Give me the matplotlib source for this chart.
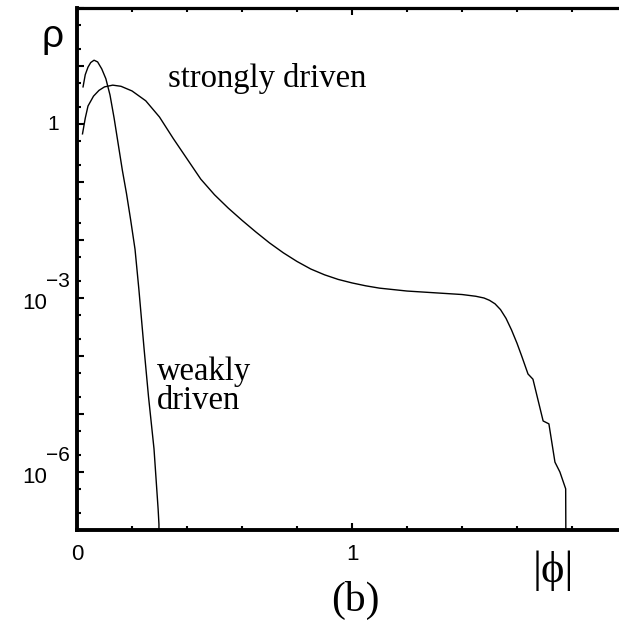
import numpy as np
import matplotlib.pyplot as plt
from matplotlib.ticker import LogLocator, MultipleLocator, NullFormatter, FixedLocator

# weakly driven curve: |phi| and log10(rho)
weak_x = [0.022, 0.03, 0.04, 0.05, 0.062, 0.075, 0.09, 0.105, 0.12, 0.135, 0.15, 0.165, 0.18,
          0.195, 0.211, 0.225, 0.244, 0.26, 0.28, 0.295, 0.298, 0.298]
weak_logy = [0.64, 0.85, 0.98, 1.06, 1.10, 1.07, 0.95, 0.78, 0.50, 0.10, -0.35, -0.80, -1.20,
             -1.65, -2.16, -2.85, -3.88, -4.70, -5.60, -6.64, -6.90, -7.50]

# strongly driven curve
strong_x = [0.02, 0.03, 0.04, 0.06, 0.08, 0.10, 0.13, 0.16, 0.20, 0.25, 0.30, 0.35, 0.40, 0.45,
            0.50, 0.55, 0.60, 0.65, 0.70, 0.75, 0.80, 0.85, 0.90, 0.95, 1.00, 1.05, 1.10, 1.20, 1.30,
            1.40, 1.45, 1.48, 1.50, 1.52, 1.54, 1.56, 1.58, 1.60, 1.617, 1.64, 1.658, 1.695, 1.716,
            1.738, 1.756, 1.777, 1.778]
strong_logy = [-0.17, 0.10, 0.31, 0.48, 0.58, 0.64, 0.67, 0.65, 0.57, 0.40, 0.12, -0.25, -0.60, -0.95,
               -1.22, -1.45, -1.66, -1.86, -2.05, -2.22, -2.37, -2.50, -2.60, -2.68, -2.74, -2.79, -2.83,
               -2.88, -2.91, -2.94, -2.97, -3.00, -3.04, -3.10, -3.20, -3.35, -3.55, -3.78, -4.00, -4.31,
               -4.40, -5.12, -5.17, -5.83, -6.00, -6.29, -7.50]

ytick_vals = [1e-6, 1e-3]
ytick_exps = ['\u22126', '\u22123']

plt.rcParams['font.family'] = ['Liberation Sans', 'DejaVu Sans']

fig = plt.figure(figsize=(6.19, 6.22), dpi=100)
# axes runs a little past the right edge of the figure (cropped as in the original)
ax = fig.add_axes([77 / 619, 1 - 530 / 622, 550 / 619, 522 / 622])

ax.plot(weak_x, 10 ** np.array(weak_logy), color='black', lw=1.0)
ax.plot(strong_x, 10 ** np.array(strong_logy), color='black', lw=1.0)

ax.set_yscale('log')
ax.set_xlim(0, 2)
ax.set_ylim(1e-7, 1e2)

ax.xaxis.set_major_locator(FixedLocator([0, 1]))
ax.xaxis.set_minor_locator(MultipleLocator(0.2))
ax.set_xticklabels(['0', '1'])
ax.yaxis.set_major_locator(LogLocator(base=10, numticks=20))
ax.yaxis.set_minor_locator(LogLocator(base=10, subs=(2, 5), numticks=20))
ax.yaxis.set_minor_formatter(NullFormatter())
ax.yaxis.set_major_formatter(NullFormatter())

ytr = ax.get_yaxis_transform()
ax.text(-0.043, 1, '1', transform=ytr, ha='center', va='center', fontsize=15)
for v, e in zip(ytick_vals, ytick_exps):
    ax.text(-0.055, v * 10 ** -0.09, '10', transform=ytr, ha='right', va='center', fontsize=16)
    ax.text(-0.057, v * 10 ** 0.29, e, transform=ytr, ha='left', va='center', fontsize=15)

ax.tick_params(which='both', direction='in', top=True, right=False, width=1.5)
ax.tick_params(which='major', length=5, labelsize=16, pad=10)
ax.tick_params(which='minor', length=3)
for s in ['left', 'bottom']:
    ax.spines[s].set_linewidth(2.8)
ax.spines['top'].set_linewidth(2.3)
ax.spines['right'].set_visible(False)

ax.text(0.33, 6.2, 'strongly driven', family='Liberation Serif', fontsize=23.5, ha='left', va='center')
ax.text(0.29, 3e-5, 'weakly\ndriven', family='Liberation Serif', fontsize=23.5, ha='left', va='center',
        linespacing=0.95)

fig.text(53 / 619, 1 - 37 / 622, 'ρ', fontsize=28, ha='center', va='center')
fig.text(553 / 619, 1 - 571 / 622, '|ϕ|', family='Liberation Serif', fontsize=32, ha='center', va='center')
fig.text(355 / 619, 1 - 600 / 622, '(b)', family='Liberation Serif', fontsize=30, ha='center', va='center')

fig.savefig('out.png', dpi=100)
